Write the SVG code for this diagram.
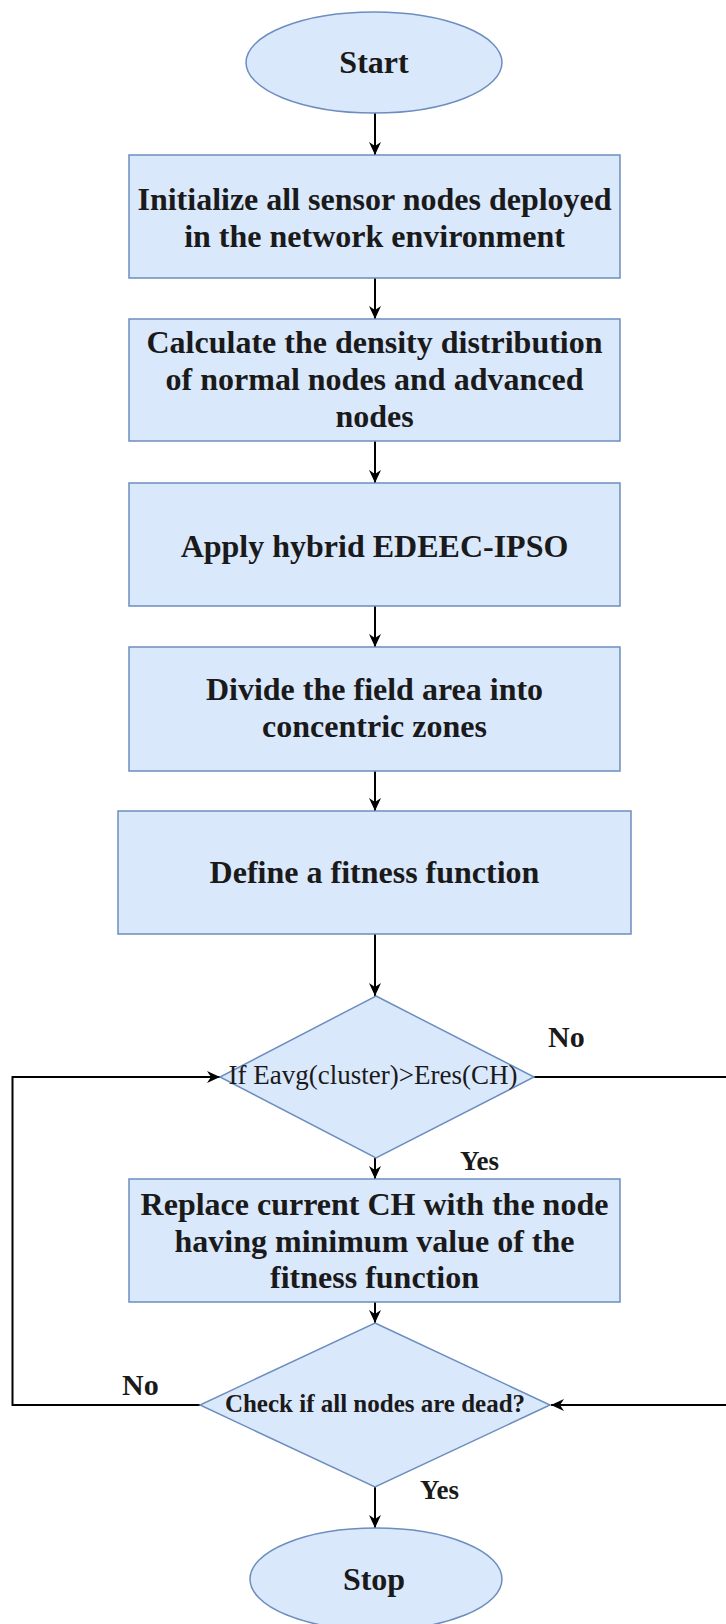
<svg xmlns="http://www.w3.org/2000/svg" width="726" height="1624" viewBox="0 0 726 1624">
<style>
.shape{fill:#dae8fc;stroke:#6c8ebf;stroke-width:1.5}
.t{font-family:"Liberation Serif","Times New Roman",serif;font-weight:bold;font-size:32px;fill:#1a1a1a;text-anchor:middle}
.d{font-family:"Liberation Serif","Times New Roman",serif;fill:#1a1a1a;text-anchor:middle}
.lbl{font-family:"Liberation Serif","Times New Roman",serif;font-weight:bold;fill:#1a1a1a}
.c{fill:none;stroke:#000;stroke-width:2}
</style>
<defs>
<marker id="arr" markerUnits="userSpaceOnUse" markerWidth="14" markerHeight="14" viewBox="0 0 14 14" refX="13" refY="7" orient="auto">
<path d="M0,1 L13,7 L0,13 L4,7 Z" fill="#000"/>
</marker>
</defs>
<rect width="726" height="1624" fill="#fff"/>
<g id="connectors">
<line class="c" x1="375" y1="113" x2="375" y2="155" marker-end="url(#arr)"/>
<line class="c" x1="375" y1="278" x2="375" y2="319" marker-end="url(#arr)"/>
<line class="c" x1="375" y1="441" x2="375" y2="483" marker-end="url(#arr)"/>
<line class="c" x1="375" y1="606" x2="375" y2="647" marker-end="url(#arr)"/>
<line class="c" x1="375" y1="771" x2="375" y2="811" marker-end="url(#arr)"/>
<line class="c" x1="375" y1="934" x2="375" y2="996" marker-end="url(#arr)"/>
<line class="c" x1="375" y1="1158" x2="375" y2="1179" marker-end="url(#arr)"/>
<line class="c" x1="375" y1="1302" x2="375" y2="1323" marker-end="url(#arr)"/>
<line class="c" x1="375" y1="1487" x2="375" y2="1528" marker-end="url(#arr)"/>
<polyline class="c" points="534,1077 728,1077 728,1405 551,1405" marker-end="url(#arr)"/>
<polyline class="c" points="200,1405 12.5,1405 12.5,1077 220,1077" marker-end="url(#arr)"/>
</g>
<g id="start">
<ellipse class="shape" cx="374" cy="62.5" rx="128" ry="50.5"/>
<text class="t" x="374" y="73">Start</text>
</g>
<g id="init">
<rect class="shape" x="129" y="155" width="491" height="123"/>
<text class="t" x="374.5" y="210">Initialize all sensor nodes deployed</text>
<text class="t" x="374.5" y="247">in the network environment</text>
</g>
<g id="density">
<rect class="shape" x="129" y="319" width="491" height="122"/>
<text class="t" x="374.5" y="353">Calculate the density distribution</text>
<text class="t" x="374.5" y="390">of normal nodes and advanced</text>
<text class="t" x="374.5" y="427">nodes</text>
</g>
<g id="apply">
<rect class="shape" x="129" y="483" width="491" height="123"/>
<text class="t" x="374.5" y="557">Apply hybrid EDEEC-IPSO</text>
</g>
<g id="divide">
<rect class="shape" x="129" y="647" width="491" height="124"/>
<text class="t" x="374.5" y="700">Divide the field area into</text>
<text class="t" x="374.5" y="737">concentric zones</text>
</g>
<g id="fitness">
<rect class="shape" x="118" y="811" width="513" height="123"/>
<text class="t" x="374.5" y="883">Define a fitness function</text>
</g>
<g id="decision1">
<polygon class="shape" points="376,996 534,1077 376,1158 220,1077"/>
<text class="d" x="373" y="1084" font-size="27">If Eavg(cluster)&gt;Eres(CH)</text>
</g>
<g id="replace">
<rect class="shape" x="129" y="1179" width="491" height="123"/>
<text class="t" x="374.5" y="1215">Replace current CH with the node</text>
<text class="t" x="374.5" y="1252">having minimum value of the</text>
<text class="t" x="374.5" y="1288">fitness function</text>
</g>
<g id="decision2">
<polygon class="shape" points="375,1323 550,1405 375,1487 200,1405"/>
<text class="d" x="375" y="1412" font-size="25" font-weight="bold">Check if all nodes are dead?</text>
</g>
<g id="stop">
<ellipse class="shape" cx="376" cy="1579" rx="126" ry="51"/>
<text class="t" x="374" y="1590">Stop</text>
</g>
<g id="labels">
<text class="lbl" x="548" y="1047" font-size="30">No</text>
<text class="lbl" x="460" y="1170" font-size="27">Yes</text>
<text class="lbl" x="122" y="1395" font-size="30">No</text>
<text class="lbl" x="420" y="1499" font-size="27">Yes</text>
</g>
</svg>
